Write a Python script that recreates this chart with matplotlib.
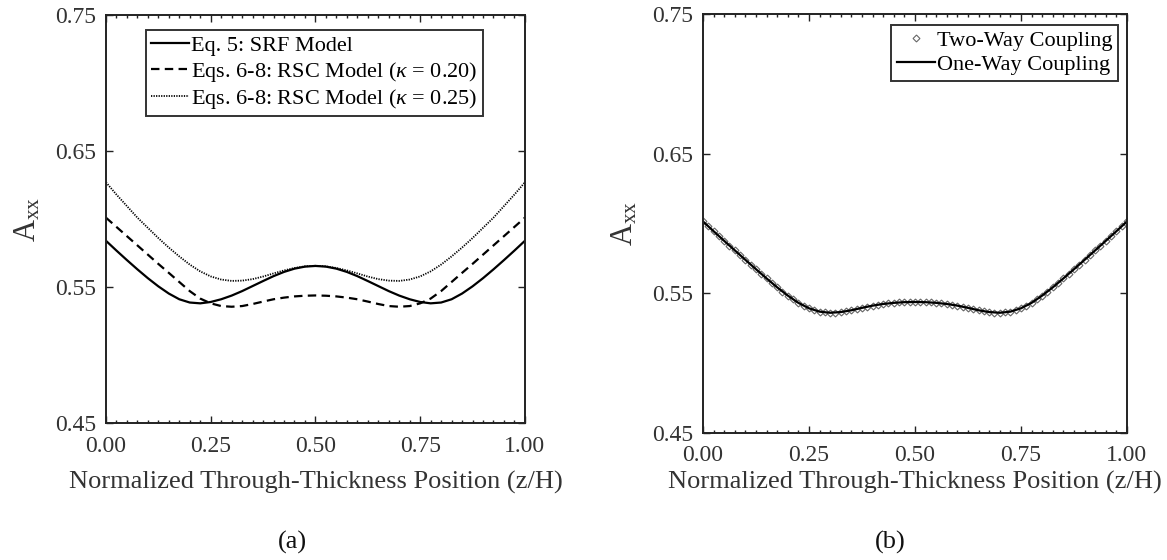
import numpy as np
import matplotlib.pyplot as plt
from matplotlib.ticker import MultipleLocator, FixedLocator, FormatStrFormatter

plt.rcParams['font.family'] = 'Liberation Serif'
plt.rcParams['mathtext.fontset'] = 'custom'
plt.rcParams['mathtext.rm'] = 'Liberation Serif'
plt.rcParams['mathtext.it'] = 'Liberation Serif:italic'

# through-thickness grid (z/H)
z = np.linspace(0.0, 1.0, 41)
z_fine = np.linspace(0.0, 1.0, 81)

# (a) orientation component A_xx for the three closure models
srf = [0.5840, 0.5768, 0.5698, 0.5630, 0.5565, 0.5505, 0.5452, 0.5410, 0.5386, 0.5380,
       0.5390, 0.5410, 0.5437, 0.5470, 0.5507, 0.5544, 0.5580, 0.5611, 0.5635, 0.5650,
       0.5655,
       0.5650, 0.5635, 0.5611, 0.5580, 0.5544, 0.5507, 0.5470, 0.5437, 0.5410, 0.5390,
       0.5380, 0.5386, 0.5410, 0.5452, 0.5505, 0.5565, 0.5630, 0.5698, 0.5768, 0.5840]
rsc_020 = [0.6010, 0.5942, 0.5874, 0.5806, 0.5738, 0.5670, 0.5604, 0.5537, 0.5470, 0.5415,
           0.5380, 0.5360, 0.5355, 0.5360, 0.5375, 0.5393, 0.5410, 0.5422, 0.5431, 0.5436,
           0.5438,
           0.5436, 0.5431, 0.5422, 0.5410, 0.5393, 0.5375, 0.5360, 0.5355, 0.5360, 0.5380,
           0.5415, 0.5470, 0.5537, 0.5604, 0.5670, 0.5738, 0.5806, 0.5874, 0.5942, 0.6010]
rsc_025 = [0.6270, 0.6180, 0.6095, 0.6010, 0.5935, 0.5860, 0.5790, 0.5725, 0.5665, 0.5615,
           0.5578, 0.5555, 0.5545, 0.5547, 0.5558, 0.5577, 0.5600, 0.5622, 0.5640, 0.5652,
           0.5656,
           0.5652, 0.5640, 0.5622, 0.5600, 0.5577, 0.5558, 0.5547, 0.5545, 0.5555, 0.5578,
           0.5615, 0.5665, 0.5725, 0.5790, 0.5860, 0.5935, 0.6010, 0.6095, 0.6180, 0.6270]

# (b) one-way vs two-way coupling
one_way = [0.6015, 0.5945, 0.5876, 0.5808, 0.5740, 0.5673, 0.5607, 0.5543, 0.5484, 0.5432,
           0.5393, 0.5369, 0.5361, 0.5366, 0.5379, 0.5396, 0.5412, 0.5424, 0.5432, 0.5437,
           0.5438,
           0.5437, 0.5432, 0.5424, 0.5412, 0.5396, 0.5379, 0.5366, 0.5361, 0.5369, 0.5393,
           0.5432, 0.5484, 0.5543, 0.5607, 0.5673, 0.5740, 0.5808, 0.5876, 0.5945, 0.6015]
two_way = [0.6015, 0.5980, 0.5945, 0.5910, 0.5876, 0.5842, 0.5808, 0.5774, 0.5740, 0.5706,
           0.5673, 0.5640, 0.5607, 0.5575, 0.5543, 0.5513, 0.5484, 0.5457, 0.5432, 0.5411,
           0.5393, 0.5379, 0.5369, 0.5363, 0.5361, 0.5362, 0.5366, 0.5372, 0.5379, 0.5387,
           0.5396, 0.5404, 0.5412, 0.5419, 0.5424, 0.5429, 0.5432, 0.5435, 0.5437, 0.5438,
           0.5438,
           0.5438, 0.5437, 0.5435, 0.5432, 0.5429, 0.5424, 0.5419, 0.5412, 0.5404, 0.5396,
           0.5387, 0.5379, 0.5372, 0.5366, 0.5362, 0.5361, 0.5363, 0.5369, 0.5379, 0.5393,
           0.5411, 0.5432, 0.5457, 0.5484, 0.5513, 0.5543, 0.5575, 0.5607, 0.5640, 0.5673,
           0.5706, 0.5740, 0.5774, 0.5808, 0.5842, 0.5876, 0.5910, 0.5945, 0.5980, 0.6015]

y_ticks = [0.45, 0.55, 0.65, 0.75]
labels_a = ['Eq. 5: SRF Model',
            r'Eqs. 6-8: RSC Model ($\kappa$ = 0.20)',
            r'Eqs. 6-8: RSC Model ($\kappa$ = 0.25)']
labels_b = ['Two-Way Coupling', 'One-Way Coupling']

TFS = 17      # tick labels
XFS = 19      # x-axis label
LFS = 16      # legend


def style_axes(ax, xpad):
    ax.set_xlim(0, 1)
    ax.set_ylim(0.45, 0.75)
    ax.xaxis.set_major_locator(MultipleLocator(0.25))
    ax.xaxis.set_minor_locator(MultipleLocator(0.025))
    ax.yaxis.set_major_locator(FixedLocator(y_ticks))
    ax.xaxis.set_major_formatter(FormatStrFormatter('%.2f'))
    ax.yaxis.set_major_formatter(FormatStrFormatter('%.2f'))
    ax.tick_params(which='both', direction='in', top=True, right=True,
                   labelsize=TFS, width=1.0, color='#222222', labelcolor='#333333')
    ax.tick_params(which='major', length=5)
    ax.tick_params(which='minor', length=2.5)
    ax.tick_params(axis='x', which='major', pad=9)
    ax.tick_params(axis='y', which='major', pad=7)
    for s in ax.spines.values():
        s.set_linewidth(1.4)
        s.set_color('#222222')
    ax.set_xlabel('Normalized Through-Thickness Position (z/H)', fontsize=XFS,
                  color='#333333', labelpad=xpad)
    ax.set_ylabel(r'$\mathrm{A}_{\mathrm{xx}}$', fontsize=22, color='#333333',
                  labelpad=9)


fig = plt.figure(figsize=(11.67, 5.6), dpi=100)
ax1 = fig.add_axes([0.0908, 0.2446, 0.359, 0.7286])
ax2 = fig.add_axes([0.6024, 0.2268, 0.3633, 0.748])

ax1.plot(z, srf, color='black', lw=1.6, label=labels_a[0])
ax1.plot(z, rsc_020, color='black', lw=1.6, dashes=(3.8, 2.4), label=labels_a[1])
ax1.plot(z, rsc_025, color='black', lw=1.3, dashes=(0.7, 0.7), label=labels_a[2])
style_axes(ax1, 10)
leg1 = ax1.legend(loc='upper right', bbox_to_anchor=(0.900, 0.963), fontsize=LFS,
                  frameon=True, fancybox=False, edgecolor='black', borderpad=0.25,
                  handlelength=1.7, handletextpad=0.1, labelspacing=0.15,
                  borderaxespad=0)
leg1.get_frame().set_linewidth(1.4)

ax2.plot(z_fine, two_way, ls='none', marker='D', markersize=3.5, mfc='white',
         mec='#666666', mew=0.8, label=labels_b[0])
ax2.plot(z, one_way, color='black', lw=1.6, label=labels_b[1])
style_axes(ax2, 3)
leg2 = ax2.legend(loc='upper right', bbox_to_anchor=(0.979, 0.974), fontsize=LFS,
                  frameon=True, fancybox=False, edgecolor='black', borderpad=0.25,
                  handlelength=1.7, handletextpad=0.1, labelspacing=0.15,
                  borderaxespad=0)
leg2.get_frame().set_linewidth(1.4)

fig.text(0.251, 0.02, '(a)', fontsize=19, ha='center', color='#111111')
fig.text(0.763, 0.02, '(b)', fontsize=19, ha='center', color='#111111')

fig.savefig('out.png', dpi=100)
